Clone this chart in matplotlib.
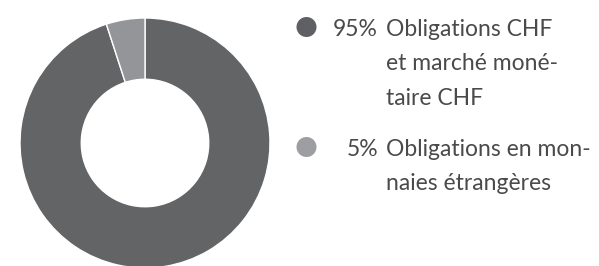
import matplotlib
matplotlib.use("Agg")
import matplotlib.pyplot as plt
from matplotlib.patches import Circle

# Data
categories = ["Obligations CHF\net marché moné-\ntaire CHF",
              "Obligations en mon-\nnaies étrangères"]
values = [95, 5]
pct_labels = ["95%", "5%"]
colors = ["#636466", "#939598"]
dot_colors = ["#5f6063", "#9d9ea1"]

W, H = 599, 266
fig = plt.figure(figsize=(W / 100, H / 100), dpi=100)
fig.patch.set_facecolor("white")

# Donut axes: center (145,143) px, radius 125 px
cx, cy, r = 145, 143, 125
ax = fig.add_axes([(cx - r) / W, (H - (cy + r)) / H, 2 * r / W, 2 * r / H])
ax.pie(values, colors=colors, startangle=90 + 360 * values[1] / 100,
       counterclock=True,
       wedgeprops=dict(width=0.49, edgecolor="white", linewidth=1.0))
ax.set_xlim(-1, 1)
ax.set_ylim(-1, 1)
ax.set_aspect("equal")
ax.axis("off")

# Overlay axes in pixel coordinates for legend
ov = fig.add_axes([0, 0, 1, 1])
ov.set_xlim(0, W)
ov.set_ylim(H, 0)
ov.axis("off")

font = "Lato"
fs = 16.5
tc = "#4a4a4c"
item_baselines = [36, 156]
line_step = 34.5
for i, (cat, pct) in enumerate(zip(categories, pct_labels)):
    yb = item_baselines[i]
    ov.add_patch(Circle((306.5, yb - 9), 10, color=dot_colors[i], lw=0))
    ov.text(378, yb, pct, ha="right", va="baseline", fontsize=fs,
            color=tc, family=font)
    for j, line in enumerate(cat.split("\n")):
        ov.text(386, yb + j * line_step, line, ha="left", va="baseline",
                fontsize=fs, color=tc, family=font)

fig.savefig("out.png", dpi=100, facecolor="white")
